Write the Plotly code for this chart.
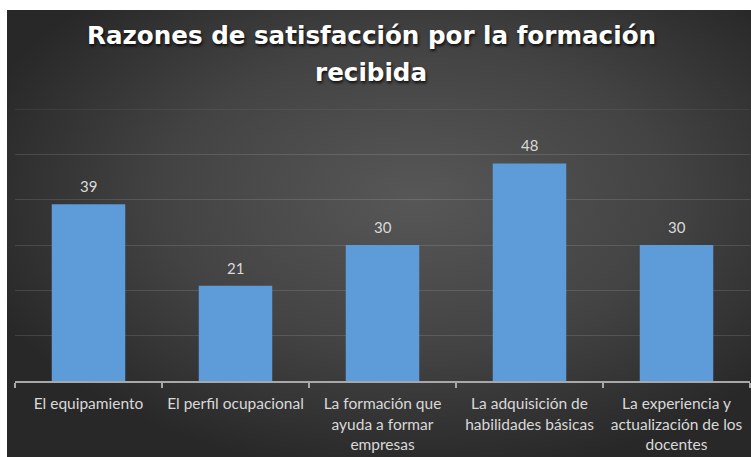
import base64
import plotly.graph_objects as go

categories = [
    "El equipamiento",
    "El perfil ocupacional",
    "La formación que<br>ayuda a formar<br>empresas",
    "La adquisición de<br>habilidades básicas",
    "La experiencia y<br>actualización de los<br>docentes",
]
values = [39, 21, 30, 48, 30]
title_lines = ["Razones de satisfacción por la formación", "recibida"]
y_max = 60

W, H = 751, 457
ML, MR, MT, MB = 15, 1, 109, 76
pw = W - ML - MR
ph = H - MT - MB

svg = (
    '<svg xmlns="http://www.w3.org/2000/svg" width="744" height="447" '
    'viewBox="0 0 744 447" preserveAspectRatio="none">'
    '<defs><radialGradient id="g" cx="0.55" cy="0.42" r="0.62">'
    '<stop offset="0" stop-color="#575757"/>'
    '<stop offset="0.55" stop-color="#434343"/>'
    '<stop offset="1" stop-color="#282828"/>'
    '</radialGradient></defs>'
    '<rect width="744" height="447" fill="url(#g)"/></svg>'
)
src = "data:image/svg+xml;base64," + base64.b64encode(svg.encode()).decode()

# dark panel spans pixels x 7..751, y 10..457
x0 = (7 - ML) / pw
x1 = (751 - ML) / pw
ytop = (H - MB - 10) / ph
ybot = (H - MB - 457) / ph

fig = go.Figure()
fig.add_trace(go.Bar(
    x=categories,
    y=values,
    marker=dict(color="#5d9bd9", line=dict(width=0)),
    cliponaxis=False,
    hoverinfo="skip",
))

# data labels
for c, v in zip(categories, values):
    fig.add_annotation(
        x=c, y=v, text=str(v), showarrow=False,
        xanchor="center", yanchor="bottom", yshift=7,
        font=dict(family="Lato", size=15, color="#d9d9d9"),
    )

# title (two lines)
for line, ypix in zip(title_lines, [35, 72]):
    fig.add_annotation(
        text=line,
        xref="paper", yref="paper",
        x=(371 - ML) / pw, y=(H - MB - ypix) / ph,
        xanchor="center", yanchor="middle",
        showarrow=False,
        font=dict(family="DejaVu Sans", size=24.6, color="white", weight="bold",
                  shadow="1px 2px 3px rgba(0,0,0,0.8)"),
    )

# top gridline (plotly drops the one sitting on the range edge)
fig.add_shape(
    type="line", xref="paper", yref="y",
    x0=0, x1=1, y0=y_max, y1=y_max,
    line=dict(color="rgba(255,255,255,0.12)", width=1.2),
    layer="below",
)

fig.update_layout(
    width=W,
    height=H,
    margin=dict(l=ML, r=MR, t=MT, b=MB),
    paper_bgcolor="white",
    plot_bgcolor="rgba(0,0,0,0)",
    bargap=0.5,
    showlegend=False,
    images=[dict(
        source=src,
        xref="paper", yref="paper",
        x=x0, y=ytop,
        sizex=x1 - x0, sizey=ytop - ybot,
        xanchor="left", yanchor="top",
        sizing="stretch",
        layer="below",
    )],
    xaxis=dict(
        showline=True,
        linecolor="#a8a8a8",
        linewidth=1.5,
        ticks="outside",
        tickson="boundaries",
        ticklen=5,
        tickcolor="#a8a8a8",
        tickwidth=1.5,
        ticklabelstandoff=8,
        tickfont=dict(family="Lato", size=15.5, color="#d9d9d9"),
        showgrid=False,
    ),
    yaxis=dict(
        range=[0, y_max],
        tick0=0,
        dtick=10,
        showticklabels=False,
        showgrid=True,
        gridcolor="rgba(255,255,255,0.12)",
        gridwidth=1.2,
        zeroline=False,
        showline=False,
        ticks="",
    ),
)

fig.write_html(
    "out.html",
    config={"displayModeBar": False},
    post_script="document.body.style.margin='0';document.body.style.overflow='hidden';",
)
